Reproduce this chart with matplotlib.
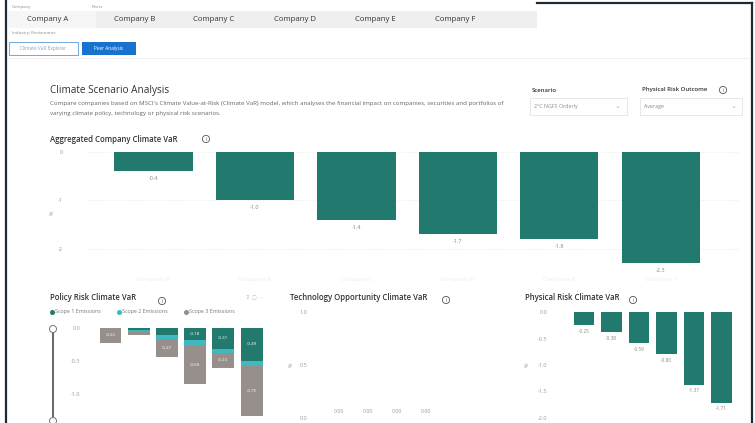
#!/usr/bin/env python3
""" Peer analysis dashboard: climate value-at-risk by company.
"""

import numpy as np
import matplotlib.pyplot as plt
from matplotlib.patches import Rectangle, Circle

plt.rcParams['font.family'] = ['Open Sans', 'DejaVu Sans']

W, H = 755, 423

companies = ['Company A', 'Company B', 'Company C', 'Company D', 'Company E', 'Company F']

# aggregated climate VaR (%)
aggregated = [-0.4, -1.0, -1.4, -1.7, -1.8, -2.3]

# policy risk climate VaR split by emission scope (%)
scope1 = [0.00, -0.03, -0.10, -0.18, -0.31, -0.49]
scope2 = [0.00, -0.01, -0.07, -0.07, -0.06, -0.08]
scope3 = [-0.22, -0.07, -0.27, -0.60, -0.23, -0.75]

# technology opportunity climate VaR (%), no data for the last two
tech_opp = [0.00, 0.00, 0.00, 0.00, np.nan, np.nan]

# physical risk climate VaR (%)
physical = [-0.25, -0.38, -0.59, -0.80, -1.37, -1.71]

TEAL = '#227a6e'
CYAN = '#3fb8c0'
GREY = '#978f8b'
TXT = '#333333'
MUTED = '#8a8a8a'

fig = plt.figure(figsize=(W / 100, H / 100), dpi=100)

# full-figure layer in pixel coordinates for the frame, slicers and titles
bg = fig.add_axes([0, 0, 1, 1])
bg.set_xlim(0, W)
bg.set_ylim(H, 0)
bg.axis('off')


def add_px_axes(x0, y0, x1, y1):
    ax = fig.add_axes([x0 / W, 1 - y1 / H, (x1 - x0) / W, (y1 - y0) / H])
    ax.set_facecolor('none')
    for s in ax.spines.values():
        s.set_visible(False)
    ax.tick_params(length=0, labelsize=4, labelcolor='#9a9a9a')
    return ax


def info_icon(x, y):
    bg.add_patch(Circle((x, y), 3.6, fill=False, lw=0.6, ec='#555555'))
    bg.text(x, y + 0.3, 'i', fontsize=3.8, ha='center', va='center', color='#555555')


# frame
bg.plot([6, 6], [0, H], color='#1c2a38', lw=1.6)
bg.plot([752, 752], [3, H], color='#1c2a38', lw=1.6)
bg.plot([537, 752], [3, 3], color='#1c2a38', lw=1.6)

# company slicer
bg.text(12, 7, 'Company', fontsize=3.2, color=MUTED, va='center')
bg.text(92, 7, 'Peers', fontsize=3.2, color=MUTED, va='center')
bg.add_patch(Rectangle((8, 11), 529, 17, fc='#efefef', ec='none'))
bg.add_patch(Rectangle((8, 11), 88, 17, fc='#f6f6f6', ec='none'))
tab_x = [48, 135, 214, 295, 375, 455]
for x, name in zip(tab_x, companies):
    bg.text(x, 19.5, name, fontsize=5.6, color=TXT, ha='center', va='center')
bg.text(12, 33, 'Industry: Restaurants', fontsize=3.2, color=MUTED, va='center')

# navigation buttons
bg.add_patch(Rectangle((9, 42), 69, 13, fc='white', ec='#5b9bd5', lw=0.6))
bg.text(43.5, 48.5, 'Climate VaR Explorer', fontsize=3.4, color='#8aa4c0',
        ha='center', va='center')
bg.add_patch(Rectangle((82, 42), 54, 13, fc='#1872d0', ec='none'))
bg.text(109, 48.5, 'Peer Analysis', fontsize=3.4, color='white', ha='center', va='center')
bg.plot([8, 750], [58, 58], color='#ececec', lw=0.6)

# header
bg.text(50, 90, 'Climate Scenario Analysis', fontsize=7.2, color=TXT, va='center')
bg.text(50, 103, "Compare companies based on MSCI's Climate Value-at-Risk (Climate VaR) model, "
        "which analyses the financial impact on companies, securities and portfolios of",
        fontsize=4.4, color='#666666', va='center')
bg.text(50, 114, 'varying climate policy, technology or physical risk scenarios.',
        fontsize=4.4, color='#666666', va='center')

bg.text(532, 90, 'Scenario', fontsize=4.3, color=TXT, va='center', fontweight='semibold')
bg.add_patch(Rectangle((530, 98), 97, 17, fc='white', ec='#e4e4e4', lw=0.6))
bg.text(534, 106.5, '2°C NGFS Orderly', fontsize=3.8, color='#888888', va='center')
bg.text(618, 106, '⌄', fontsize=5, color='#aaaaaa', ha='center', va='center')

bg.text(642, 90, 'Physical Risk Outcome', fontsize=4.3, color=TXT, va='center',
        fontweight='semibold')
info_icon(723, 90)
bg.add_patch(Rectangle((640, 98), 102, 17, fc='white', ec='#e4e4e4', lw=0.6))
bg.text(644, 106.5, 'Average', fontsize=3.8, color='#888888', va='center')
bg.text(733, 106, '⌄', fontsize=5, color='#aaaaaa', ha='center', va='center')

# aggregated company climate VaR
bg.text(50, 140, 'Aggregated Company Climate VaR', fontsize=5.6, color=TXT, va='center',
        fontweight='semibold')
info_icon(206, 139)
bg.text(52, 213, '%', fontsize=4, color='#999999', ha='center', va='center', rotation=90)

x = np.arange(len(companies))
ax = add_px_axes(85, 151, 740, 273)
ax.bar(x, aggregated, width=0.77, color=TEAL, zorder=2)
for xi, v in zip(x, aggregated):
    ax.text(xi, v - 0.1, f'{v:.1f}', fontsize=4, color='#888888', ha='center', va='top')
ax.set_xlim(-0.675, 5.78)
ax.set_ylim(-2.5, 0.02)
ax.set_yticks([0, -1, -2])
ax.set_yticklabels(['0', '-1', '-2'])
ax.tick_params(axis='y', pad=16)
ax.grid(axis='y', color='#e2e2e2', lw=0.6, ls=(0, (1, 2)))
ax.set_xticks(x)
ax.set_xticklabels(companies, color='#ececec', fontsize=4.5)
ax.tick_params(axis='x', pad=3)

# policy risk climate VaR
bg.text(50, 298, 'Policy Risk Climate VaR', fontsize=5.6, color=TXT, va='center',
        fontweight='semibold')
info_icon(162, 301)
bg.text(246, 298, '⊽  □  ···', fontsize=3.5, color='#bbbbbb', va='center')
lx = 50
for col, name in zip([TEAL, CYAN, GREY], ['Scope 1 Emissions', 'Scope 2 Emissions',
                                          'Scope 3 Emissions']):
    bg.plot(lx + 2, 312, 'o', ms=2.6, color=col)
    bg.text(lx + 5, 312, name, fontsize=3.9, color='#777777', va='center')
    lx += 67
# range slider
bg.plot([53, 53], [330, 423], color='#666666', lw=1.4)
bg.add_patch(Circle((53, 329), 3.5, fc='white', ec='#777777', lw=0.7, zorder=3))
bg.add_patch(Circle((53, 421), 3.5, fc='white', ec='#777777', lw=0.7, zorder=3))

ax = add_px_axes(90, 327, 268, 421)
s1 = np.array(scope1)
s2 = np.array(scope2)
s3 = np.array(scope3)
ax.bar(x, s1, width=0.78, color=TEAL, zorder=2)
ax.bar(x, s2, width=0.78, bottom=s1, color=CYAN, zorder=2)
ax.bar(x, s3, width=0.78, bottom=s1 + s2, color=GREY, zorder=2)
for xi in x:
    if s1[xi] < -0.1:
        ax.text(xi, s1[xi] / 2, f'{s1[xi]:.2f}', fontsize=3.2, color='white',
                ha='center', va='center')
    if s3[xi] < -0.15:
        ax.text(xi, s1[xi] + s2[xi] + s3[xi] / 2, f'{s3[xi]:.2f}', fontsize=3.2,
                color='white', ha='center', va='center')
ax.set_xlim(-0.727, 5.585)
ax.set_ylim(-1.4, 0.015)
ax.set_yticks([0, -0.5, -1.0])
ax.set_yticklabels(['0.0', '-0.5', '-1.0'])
ax.tick_params(axis='y', pad=7)
ax.set_xticks([])

# technology opportunity climate VaR
bg.text(290, 298, 'Technology Opportunity Climate VaR', fontsize=5.6, color=TXT,
        va='center', fontweight='semibold')
info_icon(446, 300)
bg.text(291, 365, '%', fontsize=4, color='#999999', ha='center', va='center', rotation=90)
ax = add_px_axes(320, 312, 505, 418)
ax.bar(x, np.nan_to_num(tech_opp), width=0.75, color=TEAL, zorder=2)
for xi, v in zip(x, tech_opp):
    if not np.isnan(v):
        ax.text(xi, v + 0.04, f'{v:.2f}', fontsize=3.8, color='#999999',
                ha='center', va='bottom')
ax.set_xlim(-0.655, 5.72)
ax.set_ylim(0, 1.0)
ax.set_yticks([0, 0.5, 1.0])
ax.set_yticklabels(['0.0', '0.5', '1.0'])
ax.tick_params(axis='y', pad=9)
ax.set_xticks([])

# physical risk climate VaR
bg.text(525, 298, 'Physical Risk Climate VaR', fontsize=5.6, color=TXT, va='center',
        fontweight='semibold')
info_icon(633, 300)
bg.text(527, 365, '%', fontsize=4, color='#999999', ha='center', va='center', rotation=90)
ax = add_px_axes(560, 311, 740, 419)
ax.bar(x, physical, width=0.76, color=TEAL, zorder=2)
for xi, v in zip(x, physical):
    ax.text(xi, v - 0.07, f'{v:.2f}', fontsize=3.4, color='#888888', ha='center', va='top')
ax.set_xlim(-0.873, 5.673)
ax.set_ylim(-2.02, 0.02)
ax.set_yticks([0, -0.5, -1.0, -1.5, -2.0])
ax.set_yticklabels(['0.0', '-0.5', '-1.0', '-1.5', '-2.0'])
ax.tick_params(axis='y', pad=9)
ax.set_xticks([])

fig.savefig('out.png', dpi=100)
